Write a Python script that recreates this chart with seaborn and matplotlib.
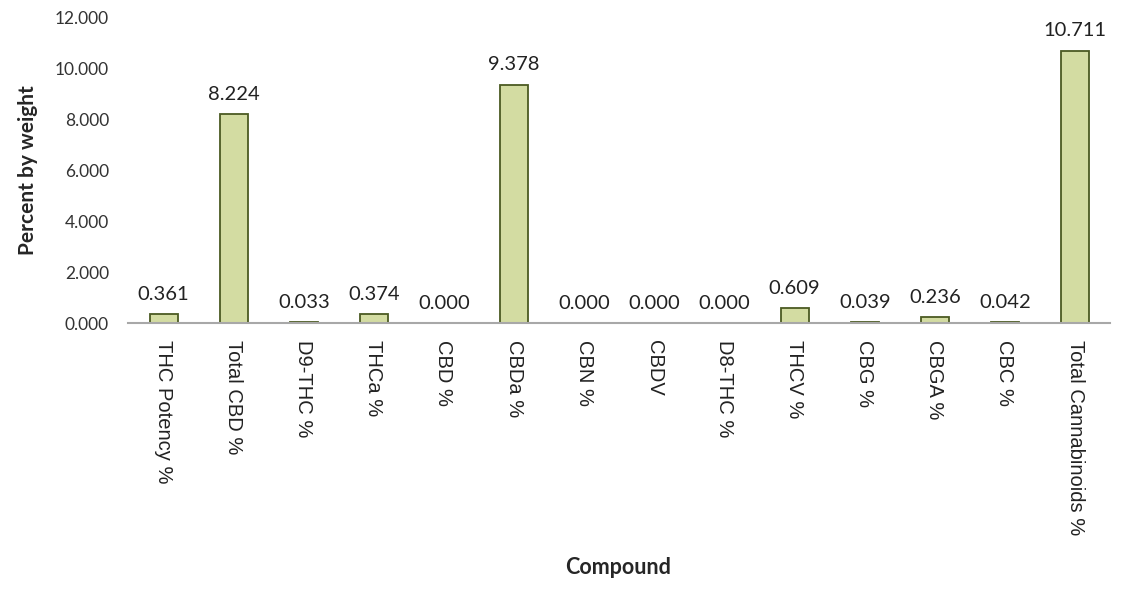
import pandas as pd
import matplotlib.pyplot as plt
import seaborn as sns

compounds = ["THC Potency %", "Total CBD %", "D9-THC %", "THCa %", "CBD %", "CBDa %",
             "CBN %", "CBDV", "D8-THC %", "THCV %", "CBG %", "CBGA %", "CBC %",
             "Total Cannabinoids %"]
percent = [0.361, 8.224, 0.033, 0.374, 0.000, 9.378, 0.000, 0.000, 0.000, 0.609,
           0.039, 0.236, 0.042, 10.711]
yticks = [0, 2, 4, 6, 8, 10, 12]

df = pd.DataFrame({"Compound": compounds, "Percent": percent})

sns.set_style("white")
plt.rcParams["font.family"] = ["Lato", "DejaVu Sans"]

fig = plt.figure(figsize=(11.27, 5.92), dpi=100)
ax = fig.add_axes([0.114, 0.454, 0.871, 0.516])

sns.barplot(data=df, x="Compound", y="Percent", color="#d3dca2", edgecolor="#4b5a22",
            linewidth=1.3, width=0.4, saturation=1, ax=ax)

for i, v in enumerate(percent):
    ax.annotate(f"{v:.3f}", (i, v), xytext=(0, 8), textcoords="offset points",
                ha="center", va="bottom", fontsize=14.5, color="#222222")

ax.set_ylim(0, 12)
ax.set_xlim(-0.5, 13.5)
ax.set_yticks(yticks)
ax.set_yticklabels([f"{t:.3f}" for t in yticks], fontsize=12.5, color="#333333")
ax.set_xticks(range(len(compounds)))
ax.set_xticklabels(compounds, rotation=270, fontsize=14.5, family="Liberation Sans",
                   va="top", ha="center", color="#222222")
ax.tick_params(axis="x", length=0, pad=12)
ax.tick_params(axis="y", length=0, pad=14)

for s in ["top", "right", "left"]:
    ax.spines[s].set_visible(False)
ax.spines["bottom"].set_color("#a8a8a8")
ax.spines["bottom"].set_linewidth(1.5)

ax.set_ylabel("Percent by weight", fontsize=15, fontweight="bold", labelpad=12)
ax.set_xlabel("")
fig.text(0.548, 0.03, "Compound", fontsize=15.5, fontweight="bold", ha="center")

plt.savefig("out.png", dpi=100)
